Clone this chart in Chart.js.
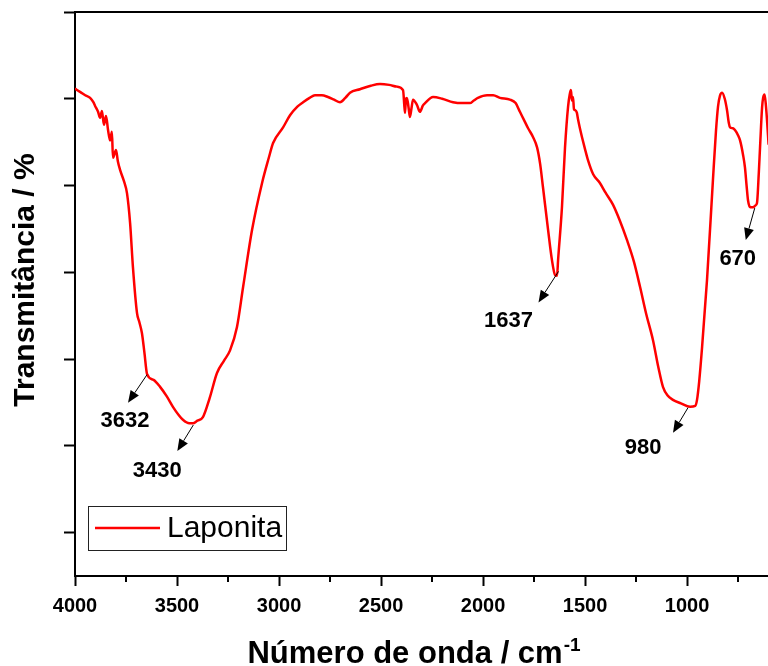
<!DOCTYPE html>
<html><head><meta charset="utf-8">
<script src="https://cdn.jsdelivr.net/npm/chart.js@4"></script>
<style>html,body{margin:0;padding:0;background:#fff;}canvas{display:block;}</style>
</head><body>
<canvas id="c" width="768" height="666"></canvas>
<script>
// ---- data ----
const seriesName = 'Laponita';
const xAxisTitle = 'Número de onda / cm';
const xAxisTitleSup = '-1';
const yAxisTitle = 'Transmitância / %';
const wavenumbers = [4000,3990,3975,3950,3926,3910,3902,3887,3877,3868,3858,3848,3838,3828,3819,3814,3799,3790,3779,3760,3745,3730,3716,3696,3685,3672,3660,3647,3615,3583,3550,3520,3490,3471,3440,3422,3400,3373,3340,3304,3270,3240,3206,3176,3132,3083,3050,3029,2980,2946,2910,2882,2850,2824,2790,2760,2730,2701,2675,2652,2603,2550,2505,2460,2422,2392,2385,2382,2378,2373,2365,2358,2350,2343,2324,2309,2295,2284,2245,2200,2147,2100,2064,2045,2025,1980,1950,1917,1868,1840,1819,1800,1779,1755,1735,1720,1706,1681,1662,1647,1637,1632,1613,1598,1583,1575,1569,1564,1559,1554,1549,1540,1534,1525,1515,1500,1485,1460,1427,1400,1363,1330,1294,1260,1230,1200,1167,1140,1118,1095,1069,1030,985,960,951,940,926,902,873,858,848,838,828,815,804,795,789,775,765,750,740,725,716,708,701,690,676,665,657,648,642,632,627,620,614,608,600];
const transmittance = [61.2,61.0,60.8,60.4,60.1,59.6,59.2,58.5,57.8,58.6,57.0,58.0,56.4,55.2,56.2,53.2,54.1,52.8,51.8,50.5,49.1,45.7,40.6,35.3,34.3,33.0,30.8,28.3,27.6,26.8,25.7,24.5,23.5,23.0,22.6,22.6,22.9,23.3,25.5,28.4,29.8,31.0,33.7,38.3,44.9,50.3,53.2,54.9,56.7,58.1,59.1,59.6,60.1,60.4,60.4,60.2,59.9,59.6,60.1,60.7,61.1,61.5,61.7,61.6,61.4,61.0,59.0,58.4,60.0,60.1,59.0,57.9,59.0,59.9,59.3,58.5,59.2,59.5,60.2,60.0,59.6,59.5,59.5,59.8,60.1,60.4,60.4,60.1,59.9,59.5,58.5,57.6,56.6,55.6,54.4,52.5,49.8,44.9,41.4,39.7,39.6,41.4,47.5,54.4,59.1,60.5,61.0,59.8,60.2,58.8,58.7,58.4,57.6,56.6,55.6,54.2,52.9,51.3,50.3,49.2,47.8,46.0,43.7,41.2,38.3,35.2,32.2,29.0,26.8,25.8,25.3,24.9,24.5,24.6,25.3,27.5,31.4,39.1,50.6,56.3,59.1,60.4,60.7,60.0,58.7,57.2,56.7,56.6,56.4,55.8,55.2,53.5,52.1,50.0,48.3,47.5,47.5,47.7,48.0,51.5,54.4,59.0,60.1,60.5,59.4,57.6,54.7];
const xTickValues = [4000,3500,3000,2500,2000,1500,1000];
const xMinorTickValues = [3750,3250,2750,2250,1750,1250,750];
const yTickValues = [10,20,30,40,50,60,70];
const peakLabels = ['3632','3430','1637','980','670'];
const peakX = [3647, 3420, 1630, 995, 668];
const peakY = [28.2, 22.4, 40.1, 24.4, 47.4];
// ---- layout / style (pixels) ----
const calloutOffsets = [ // [arrowDx, arrowDy, labelDx, labelDy]
  [-19, 28, -22, 46],
  [-16, 26, -36, 46],
  [-20, 31, -50, 49],
  [-15, 25, -45, 40],
  [-9, 32, -17, 51]
];
const FONT = '"Liberation Sans", Arial, sans-serif';

const points = wavenumbers.map((w, i) => ({x: w, y: transmittance[i]}));

const overlay = {
  id: 'overlay',
  afterDraw(chart) {
    const {ctx, chartArea, scales: {x, y}} = chart;
    ctx.save();
    // minor ticks on x axis
    ctx.strokeStyle = '#000';
    ctx.lineWidth = 2;
    xMinorTickValues.forEach(v => {
      if (v < x.min || v > x.max) return;
      const px = Math.round(x.getPixelForValue(v));
      ctx.beginPath();
      ctx.moveTo(px, chartArea.bottom);
      ctx.lineTo(px, chartArea.bottom + 6);
      ctx.stroke();
    });
    // x axis title with superscript
    ctx.fillStyle = '#000';
    ctx.textBaseline = 'alphabetic';
    ctx.textAlign = 'left';
    ctx.font = 'bold 31px ' + FONT;
    const wMain = ctx.measureText(xAxisTitle).width;
    ctx.font = 'bold 19px ' + FONT;
    const wSup = ctx.measureText(xAxisTitleSup).width;
    const tx0 = (chartArea.left + chartArea.right) / 2 - 8 - (wMain + wSup) / 2;
    ctx.font = 'bold 31px ' + FONT;
    ctx.fillText(xAxisTitle, tx0, 663);
    ctx.font = 'bold 19px ' + FONT;
    ctx.fillText(xAxisTitleSup, tx0 + wMain + 1, 651);
    // y axis title
    ctx.save();
    ctx.translate(26, (chartArea.top + chartArea.bottom) / 2 - 14);
    ctx.rotate(-Math.PI / 2);
    ctx.font = 'bold 30px ' + FONT;
    ctx.textAlign = 'center';
    ctx.textBaseline = 'middle';
    ctx.fillText(yAxisTitle, 0, 0);
    ctx.restore();
    // callouts
    peakLabels.forEach((lab, i) => {
      const sx = x.getPixelForValue(peakX[i]);
      const sy = y.getPixelForValue(peakY[i]);
      const [adx, ady, ldx, ldy] = calloutOffsets[i];
      const tx = sx + adx, ty = sy + ady;
      const ang = Math.atan2(ady, adx);
      const hl = 12, hw = 5;
      const bx = tx - hl * Math.cos(ang), by = ty - hl * Math.sin(ang);
      ctx.strokeStyle = '#000';
      ctx.lineWidth = 1;
      ctx.beginPath();
      ctx.moveTo(sx, sy);
      ctx.lineTo(bx, by);
      ctx.stroke();
      ctx.fillStyle = '#000';
      ctx.beginPath();
      ctx.moveTo(tx, ty);
      ctx.lineTo(bx + hw * Math.sin(ang), by - hw * Math.cos(ang));
      ctx.lineTo(bx - hw * Math.sin(ang), by + hw * Math.cos(ang));
      ctx.closePath();
      ctx.fill();
      ctx.font = 'bold 22px ' + FONT;
      ctx.textAlign = 'center';
      ctx.textBaseline = 'middle';
      ctx.fillText(lab, sx + ldx, sy + ldy);
    });
    // legend box
    const ds = chart.data.datasets[0];
    const lx = 88, ly = 506, lw = 198, lh = 44;
    ctx.strokeStyle = '#222';
    ctx.lineWidth = 1;
    ctx.strokeRect(lx + 0.5, ly + 0.5, lw, lh);
    ctx.strokeStyle = ds.borderColor;
    ctx.lineWidth = 2.5;
    ctx.beginPath();
    ctx.moveTo(lx + 7, ly + 22);
    ctx.lineTo(lx + 72, ly + 22);
    ctx.stroke();
    ctx.fillStyle = '#000';
    ctx.font = '30px ' + FONT;
    ctx.textAlign = 'left';
    ctx.textBaseline = 'middle';
    ctx.fillText(ds.label, lx + 79, ly + 23);
    ctx.restore();
  }
};

new Chart(document.getElementById('c'), {
  type: 'line',
  data: {
    datasets: [{
      label: seriesName,
      data: points,
      borderColor: '#ff0000',
      borderWidth: 2.5,
      pointRadius: 0,
      cubicInterpolationMode: 'monotone',
      fill: false
    }]
  },
  options: {
    responsive: false,
    animation: false,
    layout: {padding: 0},
    plugins: {legend: {display: false}, tooltip: {enabled: false}},
    scales: {
      x: {
        type: 'linear',
        position: 'bottom',
        reverse: true,
        min: 603,
        max: 4000,
        afterBuildTicks(s) { s.ticks = xTickValues.map(v => ({value: v})); },
        afterFit(s) { s.height = 90; },
        ticks: {
          autoSkip: false,
          maxRotation: 0,
          color: '#000',
          padding: 8,
          callback: v => String(v),
          font: {family: FONT, size: 20, weight: 'bold'}
        },
        grid: {drawOnChartArea: false, drawTicks: true, tickLength: 10, tickWidth: 2, tickColor: '#000'},
        border: {display: true, color: '#000', width: 2},
        title: {display: false}
      },
      xTop: {
        type: 'linear',
        position: 'top',
        reverse: true,
        min: 603,
        max: 4000,
        afterFit(s) { s.height = 12; },
        ticks: {display: false},
        grid: {drawOnChartArea: false, drawTicks: false},
        border: {display: true, color: '#000', width: 2}
      },
      y: {
        type: 'linear',
        position: 'left',
        min: 5,
        max: 70,
        afterBuildTicks(s) { s.ticks = yTickValues.map(v => ({value: v})); },
        afterFit(s) { s.width = 75; },
        ticks: {display: false},
        grid: {drawOnChartArea: false, drawTicks: true, tickLength: 11, tickWidth: 2, tickColor: '#000'},
        border: {display: true, color: '#000', width: 2},
        title: {display: false}
      }
    }
  },
  plugins: [overlay]
});
</script>
</body></html>
